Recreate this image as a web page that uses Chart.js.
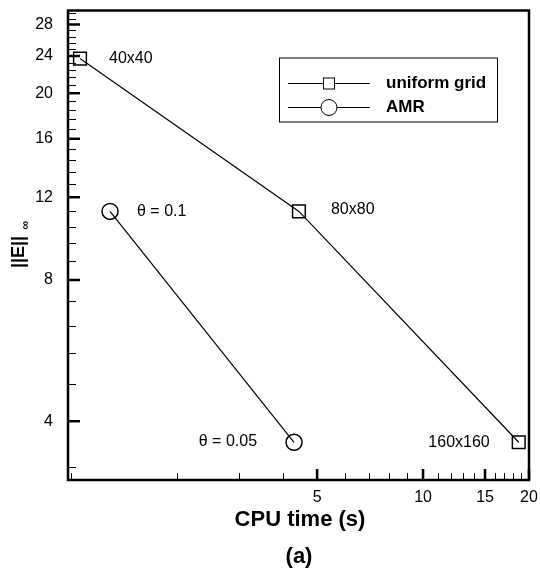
<!DOCTYPE html>
<html>
<head>
<meta charset="utf-8">
<script src="https://cdn.jsdelivr.net/npm/chart.js@4.4.0/dist/chart.umd.min.js"></script>
<style>
  body { margin: 0; background: #fff; }
  canvas { display: block; }
</style>
</head>
<body>
<canvas id="grafico" width="540" height="579"></canvas>
<script>
// Datos (ejes logaritmicos)
var seriesNames = ["uniform grid", "AMR"];
var uniformTime = [1.06, 4.44, 18.7];
var uniformErr = [23.7, 11.2, 3.61];
var uniformLabels = ["40x40", "80x80", "160x160"];
var amrTime = [1.29, 4.30];
var amrErr = [11.2, 3.61];
var amrLabels = ["\u03b8 = 0.1", "\u03b8 = 0.05"];

// Marcas de los ejes
var xMajor = [5, 10, 15, 20];
var xMinor = [1, 2, 3, 4, 6, 7, 8, 9, 11, 12, 13, 14, 16, 17, 18, 19];
var yMajor = [4, 8, 12, 16, 20, 24, 28];
var yMinor = [3.2, 4.8, 5.6, 6.4, 7.2, 8.8, 9.6, 10.4, 11.2, 12.8, 13.6, 14.4, 15.2,
              16.8, 17.6, 18.4, 19.2, 20.8, 21.6, 22.4, 23.2, 24.8, 25.6, 26.4, 27.2, 28.8, 29.6];

var FONT = "'Liberation Sans', Arial, Helvetica, sans-serif";

function toPoints(xs, ys) {
    return xs.map(function (x, i) { return { x: x, y: ys[i] }; });
}

// Plugin: marco, marcas hacia dentro, titulos, leyenda y etiquetas
var decoracion = {
    id: 'decoracion',
    afterDatasetsDraw: function (chart) {
        var ctx = chart.ctx;
        var a = chart.chartArea;
        var sx = chart.scales.x, sy = chart.scales.y;
        ctx.save();
        ctx.strokeStyle = '#000';
        ctx.fillStyle = '#000';

        // marcas menores
        ctx.lineWidth = 1;
        ctx.beginPath();
        xMinor.forEach(function (v) {
            var p = Math.round(sx.getPixelForValue(v)) + 0.5;
            ctx.moveTo(p, a.bottom); ctx.lineTo(p, a.bottom - 7);
        });
        yMinor.forEach(function (v) {
            var p = Math.round(sy.getPixelForValue(v)) + 0.5;
            ctx.moveTo(a.left, p); ctx.lineTo(a.left + 8, p);
        });
        ctx.stroke();

        // marcas mayores
        ctx.lineWidth = 2.5;
        ctx.beginPath();
        xMajor.forEach(function (v) {
            var p = sx.getPixelForValue(v);
            ctx.moveTo(p, a.bottom); ctx.lineTo(p, a.bottom - 11);
        });
        yMajor.forEach(function (v) {
            var p = sy.getPixelForValue(v);
            ctx.moveTo(a.left, p); ctx.lineTo(a.left + 12, p);
        });
        ctx.stroke();

        // marco
        ctx.lineWidth = 2.5;
        ctx.strokeRect(a.left, a.top, a.right - a.left, a.bottom - a.top);

        // etiquetas de puntos
        ctx.font = '16px ' + FONT;
        ctx.textBaseline = 'middle';
        var offU = [[29, 0, 'left'], [32, -2, 'left'], [-29, 0, 'right']];
        uniformLabels.forEach(function (t, i) {
            var px = sx.getPixelForValue(uniformTime[i]);
            var py = sy.getPixelForValue(uniformErr[i]);
            ctx.textAlign = offU[i][2];
            ctx.fillText(t, px + offU[i][0], py + offU[i][1]);
        });
        var offA = [[27, 0, 'left'], [-37, -1, 'right']];
        amrLabels.forEach(function (t, i) {
            var px = sx.getPixelForValue(amrTime[i]);
            var py = sy.getPixelForValue(amrErr[i]);
            ctx.textAlign = offA[i][2];
            ctx.fillText(t, px + offA[i][0], py + offA[i][1]);
        });

        // leyenda
        var lx = a.left + 211, ly = a.top + 47;
        ctx.fillStyle = '#fff';
        ctx.fillRect(lx, ly, 218, 64);
        ctx.fillStyle = '#000';
        ctx.lineWidth = 1;
        ctx.strokeRect(lx + 0.5, ly + 0.5, 218, 64);
        ctx.font = 'bold 17px ' + FONT;
        ctx.textAlign = 'left';
        seriesNames.forEach(function (name, i) {
            var y = ly + 26 + i * 24;
            ctx.beginPath();
            ctx.moveTo(lx + 9, y); ctx.lineTo(lx + 91, y);
            ctx.stroke();
            ctx.fillStyle = '#fff';
            if (i === 0) {
                ctx.fillRect(lx + 44, y - 6, 12, 12);
                ctx.strokeRect(lx + 44.5, y - 5.5, 11, 11);
            } else {
                ctx.beginPath();
                ctx.arc(lx + 50, y, 8, 0, Math.PI * 2);
                ctx.fill(); ctx.stroke();
            }
            ctx.fillStyle = '#000';
            ctx.fillText(name, lx + 107, y);
        });

        // titulos de ejes
        ctx.font = 'bold 22px ' + FONT;
        ctx.textAlign = 'center';
        ctx.fillText('CPU time (s)', 300, a.bottom + 40);
        ctx.fillText('(a)', 299, a.bottom + 77);

        ctx.save();
        ctx.translate(19, 252);
        ctx.rotate(-Math.PI / 2);
        ctx.font = 'bold 18px ' + FONT;
        ctx.fillText('||E||', 0, 0);
        ctx.font = 'bold 12px ' + FONT;
        ctx.fillText('\u221e', 27, 7);
        ctx.restore();

        ctx.restore();
    }
};

var ctx = document.getElementById('grafico').getContext('2d');
var grafico = new Chart(ctx, {
    type: 'scatter',
    data: {
        datasets: [{
            label: seriesNames[0],
            data: toPoints(uniformTime, uniformErr),
            showLine: true,
            borderColor: '#000',
            borderWidth: 1.2,
            backgroundColor: 'rgba(0,0,0,0)',
            pointStyle: 'rect',
            pointRadius: 9,
            pointBorderWidth: 1.5,
            pointBorderColor: '#000'
        }, {
            label: seriesNames[1],
            data: toPoints(amrTime, amrErr),
            showLine: true,
            borderColor: '#000',
            borderWidth: 1.2,
            backgroundColor: 'rgba(0,0,0,0)',
            pointStyle: 'circle',
            pointRadius: 8,
            pointBorderWidth: 1.5,
            pointBorderColor: '#000'
        }]
    },
    options: {
        responsive: false,
        animation: false,
        layout: { padding: { top: 7, right: 11, left: 0, bottom: 0 } },
        plugins: {
            legend: { display: false },
            tooltip: { enabled: false }
        },
        scales: {
            x: {
                type: 'logarithmic',
                min: 0.98,
                max: 20,
                grid: { display: false, drawTicks: false },
                border: { display: false },
                afterBuildTicks: function (s) {
                    s.ticks = xMajor.map(function (v) { return { value: v }; });
                },
                afterFit: function (s) {
                    s.height = 99;
                    s.paddingLeft = 0; s.paddingRight = 0;
                },
                ticks: {
                    autoSkip: false,
                    maxRotation: 0,
                    padding: 8,
                    color: '#000',
                    font: { size: 16, family: FONT },
                    callback: function (v) { return String(v); }
                }
            },
            y: {
                type: 'logarithmic',
                min: 3,
                max: 30,
                grid: { display: false, drawTicks: false },
                border: { display: false },
                afterBuildTicks: function (s) {
                    s.ticks = yMajor.map(function (v) { return { value: v }; });
                },
                afterFit: function (s) {
                    s.width = 68;
                    s.paddingTop = 0; s.paddingBottom = 0;
                },
                ticks: {
                    autoSkip: false,
                    padding: 15,
                    color: '#000',
                    font: { size: 16, family: FONT },
                    callback: function (v) { return String(v); }
                }
            }
        }
    },
    plugins: [decoracion]
});
</script>
</body>
</html>
